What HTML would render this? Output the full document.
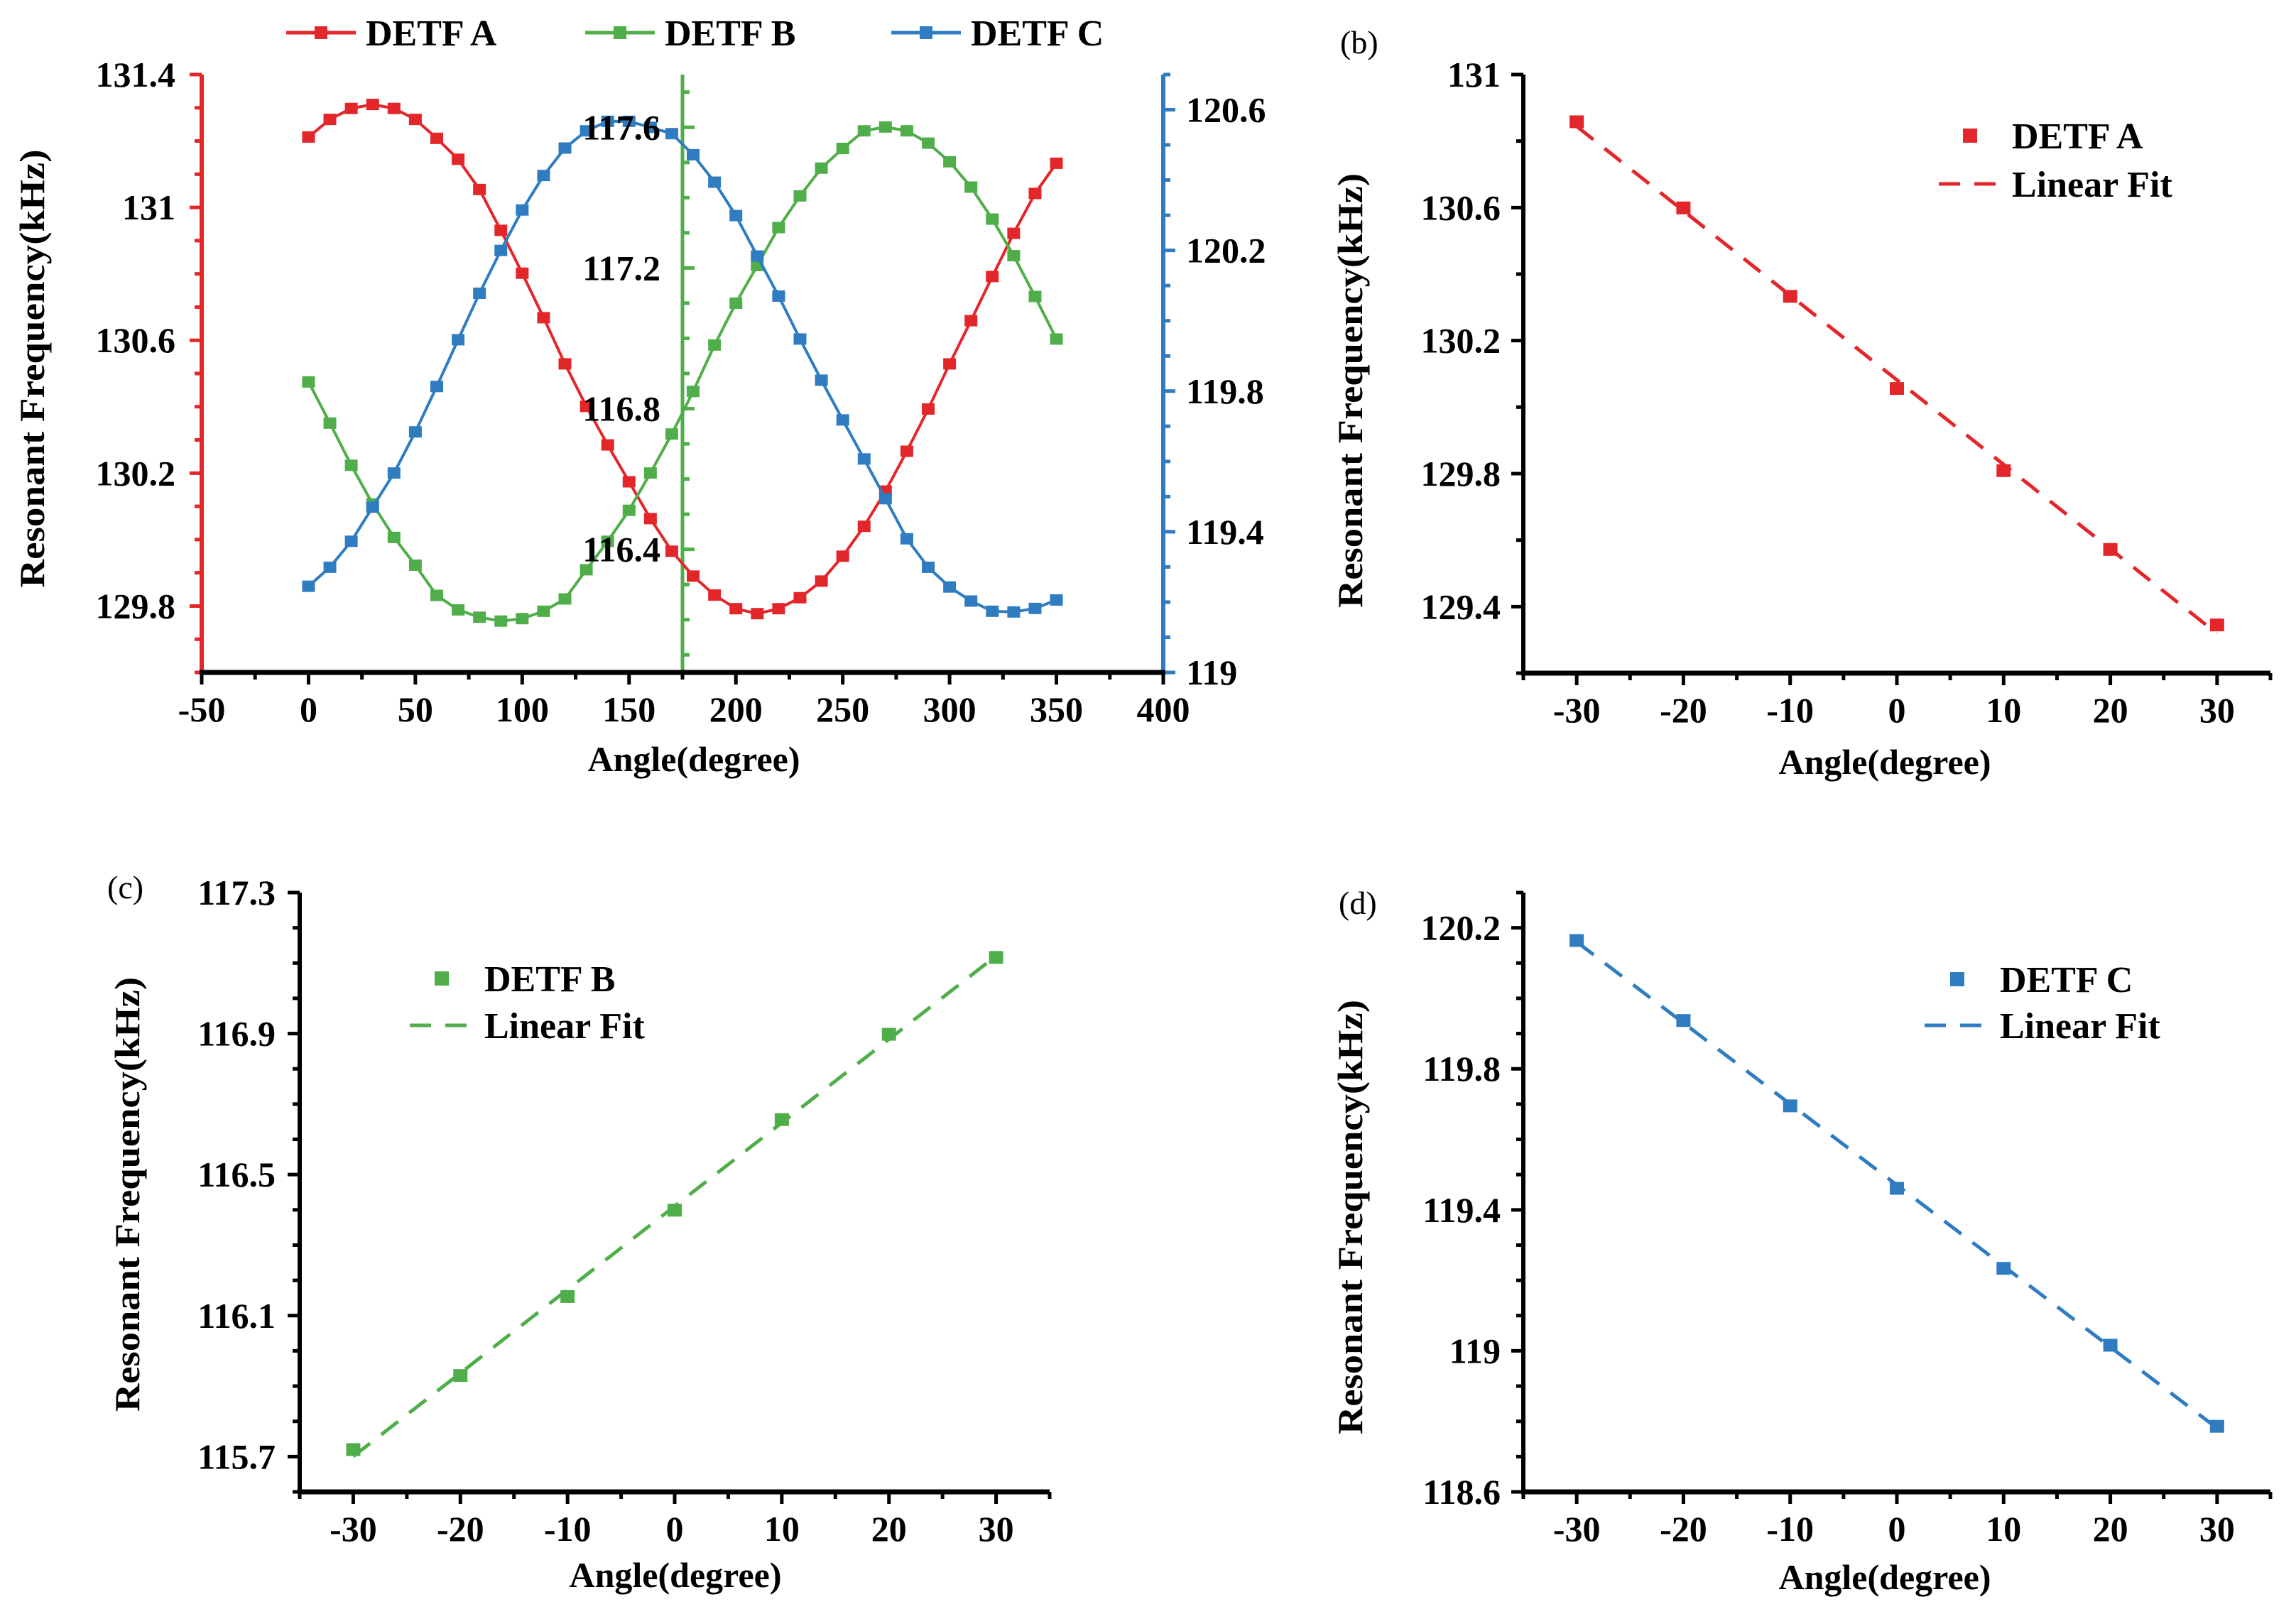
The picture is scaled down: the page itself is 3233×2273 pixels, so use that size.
<!DOCTYPE html>
<html><head><meta charset="utf-8">
<style>
html,body{margin:0;padding:0;background:#fff;}
svg{display:block;font-family:"Liberation Serif",serif;font-weight:bold;}
</style></head>
<body>
<svg id="fig" xmlns="http://www.w3.org/2000/svg" width="3233" height="2273" viewBox="0 0 3233 2273"></svg>
<script>
// ---------- Panel (a) data ----------
const anglesA = [0,10,20,30,40,50,60,70,80,90,100,110,120,130,140,150,160,170,180,190,200,210,220,230,240,250,260,270,280,290,300,310,320,330,340,350];
const detfA = [131.212,131.265,131.298,131.31,131.298,131.265,131.208,131.145,131.054,130.931,130.802,130.668,130.529,130.401,130.285,130.174,130.063,129.965,129.890,129.833,129.792,129.777,129.792,129.825,129.875,129.950,130.040,130.146,130.266,130.393,130.529,130.659,130.792,130.922,131.042,131.133];
const detfB = [116.876,116.759,116.639,116.529,116.434,116.355,116.269,116.228,116.207,116.196,116.203,116.224,116.259,116.342,116.423,116.511,116.617,116.728,116.849,116.981,117.100,117.207,117.315,117.405,117.484,117.540,117.590,117.601,117.590,117.555,117.502,117.430,117.339,117.235,117.119,116.998];
const detfC = [119.245,119.299,119.373,119.470,119.567,119.684,119.813,119.946,120.078,120.200,120.315,120.413,120.491,120.540,120.567,120.567,120.550,120.532,120.472,120.394,120.299,120.184,120.070,119.948,119.831,119.718,119.607,119.494,119.380,119.299,119.243,119.203,119.174,119.172,119.182,119.206];
const xTicksA = [-50,0,50,100,150,200,250,300,350,400];
const yTicksAL = [129.8,130.2,130.6,131,131.4];
const yTicksAG = [116.4,116.8,117.2,117.6];
const yTicksAR = [119,119.4,119.8,120.2,120.6];
// ---------- Panels (b)(c)(d) data ----------
const anglesFit = [-30,-20,-10,0,10,20,30];
const fitA = [130.858,130.599,130.333,130.056,129.809,129.572,129.345];
const fitB = [115.720,115.930,116.154,116.399,116.656,116.898,117.116];
const fitC = [120.164,119.937,119.695,119.461,119.234,119.016,118.786];
const xTicksFit = [-30,-20,-10,0,10,20,30];
const yTicksB = [129.4,129.8,130.2,130.6,131];
const yTicksC = [115.7,116.1,116.5,116.9,117.3];
const yTicksD = [118.6,119,119.4,119.8,120.2];

const RED='#e3262a', GREEN='#4fae4a', BLUE='#2f7cc0';
const NS='http://www.w3.org/2000/svg';
const svg=document.getElementById('fig');
function mk(tag, attrs, name, parent){
  const el=document.createElementNS(NS,tag);
  for(const k in attrs) el.setAttribute(k,attrs[k]);
  
  
  (parent||svg).appendChild(el);
  return el;
}
function txt(s,x,y,size,anchor,name,extra){
  const a=Object.assign({x:x,y:y,'font-size':size,'text-anchor':anchor||'middle',fill:'#000'},extra||{});
  const t=mk('text',a,name);
  t.textContent=s;
  return t;
}
function fmt(v){return String(+v.toFixed(1));}
function lin(d0,d1,p0,p1){return v=>p0+(v-d0)*(p1-p0)/(d1-d0);}
function ticksRange(a,b,step){const r=[];for(let v=a;v<=b+1e-9;v+=step)r.push(+v.toFixed(3));return r;}

// ================= Panel (a) =================
(function(){
  const X=lin(-50,400,284,1638);
  const YL=lin(129.6,131.4,947,105);
  const YG=lin(116.05,117.75,947,105);
  const YR=lin(119,120.7,947,105);
  const g=mk('g',{},'panel-a');
  // left axis
  mk('line',{x1:284,y1:105,x2:284,y2:950,stroke:RED,'stroke-width':6},'left-y-axis-a',g);
  ticksRange(129.6,131.4,0.1).forEach(v=>{
    const major=yTicksAL.some(t=>Math.abs(t-v)<1e-6);
    mk('line',{x1:284,y1:YL(v),x2:284-(major?17:10),y2:YL(v),stroke:RED,'stroke-width':5},'left-y-tick',g);
  });
  yTicksAL.forEach(v=>txt(fmt(v),247,YL(v)+17,50,'end','left-y-tick-label'));
  // green axis
  mk('line',{x1:961,y1:105,x2:961,y2:950,stroke:GREEN,'stroke-width':5},'middle-y-axis-a',g);
  ticksRange(116.1,117.7,0.1).forEach(v=>{
    const major=yTicksAG.some(t=>Math.abs(t-v)<1e-6);
    mk('line',{x1:961,y1:YG(v),x2:961+(major?17:10),y2:YG(v),stroke:GREEN,'stroke-width':5},'middle-y-tick',g);
  });
  yTicksAG.forEach(v=>txt(fmt(v),930,YG(v)+17,50,'end','middle-y-tick-label'));
  // blue axis
  mk('line',{x1:1638,y1:105,x2:1638,y2:950,stroke:BLUE,'stroke-width':6},'right-y-axis-a',g);
  ticksRange(119,120.7,0.1).forEach(v=>{
    const major=yTicksAR.some(t=>Math.abs(t-v)<1e-6);
    mk('line',{x1:1638,y1:YR(v),x2:1638+(major?17:10),y2:YR(v),stroke:BLUE,'stroke-width':5},'right-y-tick',g);
  });
  yTicksAR.forEach(v=>txt(fmt(v),1670,YR(v)+17,50,'start','right-y-tick-label'));
  // x axis
  mk('line',{x1:281,y1:947,x2:1641,y2:947,stroke:'#000','stroke-width':7},'x-axis-a',g);
  ticksRange(-50,400,25).forEach(v=>{
    const major=xTicksA.includes(v);
    mk('line',{x1:X(v),y1:947,x2:X(v),y2:947+(major?17:10),stroke:'#000','stroke-width':5},'x-tick',g);
  });
  xTicksA.forEach(v=>txt(String(v),X(v),1016,50,'middle','x-tick-label'));
  txt('Angle(degree)',977,1086,50,'middle','x-axis-title-a');
  txt('Resonant Frequency(kHz)',0,0,50,'middle','y-axis-title-a',{transform:'translate(62,519) rotate(-90)',textLength:617,lengthAdjust:'spacingAndGlyphs'});
  // series
  const series=[[detfA,YL,RED,'detf-a'],[detfB,YG,GREEN,'detf-b'],[detfC,YR,BLUE,'detf-c']];
  series.forEach(([vals,Y,col,nm])=>{
    const pts=anglesA.map((a,i)=>X(a)+','+Y(vals[i])).join(' ');
    mk('polyline',{points:pts,fill:'none',stroke:col,'stroke-width':4},'series-line-'+nm,g);
    anglesA.forEach((a,i)=>{
      mk('rect',{x:X(a)-9,y:Y(vals[i])-8,width:18,height:16,fill:col},'point-'+nm,g);
    });
  });
  // legend
  const leg=[[RED,'DETF A',403],[GREEN,'DETF B',824],[BLUE,'DETF C',1255]];
  leg.forEach(([col,label,x0])=>{
    mk('line',{x1:x0,y1:46,x2:x0+98,y2:46,stroke:col,'stroke-width':5},'legend-line',g);
    mk('rect',{x:x0+40,y:37,width:18,height:18,fill:col},'legend-marker',g);
    txt(label,x0+112,64,52,'start','legend-entry');
  });
})();

// ================= Fit panels =================
function fitPanel(o){
  const X=lin(-35,35,o.x0,o.x1);
  const Y=lin(o.ymin,o.ymax,o.yb,o.yt);
  const g=mk('g',{},o.name);
  mk('line',{x1:o.x0,y1:o.yt,x2:o.x0,y2:o.yb+3,stroke:'#000','stroke-width':6},'y-axis',g);
  ticksRange(o.tickStart,o.ymax,o.minor).forEach(v=>{
    const major=o.yTicks.some(t=>Math.abs(t-v)<1e-6);
    mk('line',{x1:o.x0,y1:Y(v),x2:o.x0-(major?17:10),y2:Y(v),stroke:'#000','stroke-width':5},'y-tick',g);
  });
  o.yTicks.forEach(v=>txt(fmt(v),o.labX,Y(v)+17,50,'end','y-tick-label'));
  mk('line',{x1:o.x0-3,y1:o.yb,x2:o.x1,y2:o.yb,stroke:'#000','stroke-width':7},'x-axis',g);
  ticksRange(-35,35,5).forEach(v=>{
    const major=xTicksFit.includes(v);
    mk('line',{x1:X(v),y1:o.yb,x2:X(v),y2:o.yb+(major?17:10),stroke:'#000','stroke-width':5},'x-tick',g);
  });
  xTicksFit.forEach(v=>txt(String(v),X(v),o.yb+69,50,'middle','x-tick-label'));
  txt('Angle(degree)',o.axc,o.axy,50,'middle','x-axis-title');
  txt('Resonant Frequency(kHz)',0,0,50,'middle','y-axis-title',{transform:'translate('+o.ylx+','+o.yly+') rotate(-90)',textLength:612,lengthAdjust:'spacingAndGlyphs'});
  txt(o.tag,o.tagx,o.tagy,46,'start','panel-label',{'font-weight':'normal'});
  // linear regression
  const n=anglesFit.length;
  const mx=anglesFit.reduce((s,v)=>s+v,0)/n, my=o.vals.reduce((s,v)=>s+v,0)/n;
  let sxy=0,sxx=0;anglesFit.forEach((a,i)=>{sxy+=(a-mx)*(o.vals[i]-my);sxx+=(a-mx)*(a-mx);});
  const k=sxy/sxx, b=my-k*mx;
  mk('line',{x1:X(-30),y1:Y(b+k*-30),x2:X(30),y2:Y(b+k*30),stroke:o.col,'stroke-width':5,'stroke-dasharray':'30,20'},'linear-fit-line',g);
  anglesFit.forEach((a,i)=>{
    mk('rect',{x:X(a)-10,y:Y(o.vals[i])-9,width:20,height:18,fill:o.col},'data-point',g);
  });
  // legend
  mk('rect',{x:o.lmx-10,y:o.lmy-10,width:20,height:20,fill:o.col},'legend-marker',g);
  txt(o.series,o.ltx,o.lmy+18,52,'start','legend-entry');
  mk('line',{x1:o.ldx0,y1:o.lfy,x2:o.ldx1,y2:o.lfy,stroke:o.col,'stroke-width':5,'stroke-dasharray':'30,20'},'legend-fit-line',g);
  txt('Linear Fit',o.ltx,o.lfy+18,52,'start','legend-entry');
}
fitPanel({name:'panel-b',x0:2145,x1:3197,yt:105,yb:948,ymin:129.2,ymax:131,tickStart:129.2,minor:0.2,yTicks:yTicksB,vals:fitA,col:RED,labX:2113,
  axc:2654,axy:1090,ylx:1918,yly:550,tag:'(b)',tagx:1887,tagy:75,series:'DETF A',lmx:2774,lmy:191,ltx:2833,lfy:259,ldx0:2730,ldx1:2816});
fitPanel({name:'panel-c',x0:422,x1:1478,yt:1257,yb:2101,ymin:115.6,ymax:117.3,tickStart:115.6,minor:0.1,yTicks:yTicksC,vals:fitB,col:GREEN,labX:388,
  axc:951,axy:2235,ylx:196,yly:1682,tag:'(c)',tagx:151,tagy:1265,series:'DETF B',lmx:622,lmy:1378,ltx:682,lfy:1444,ldx0:577,ldx1:668});
fitPanel({name:'panel-d',x0:2145,x1:3197,yt:1257,yb:2101,ymin:118.6,ymax:120.3,tickStart:118.6,minor:0.1,yTicks:yTicksD,vals:fitC,col:BLUE,labX:2113,
  axc:2654,axy:2238,ylx:1918,yly:1714,tag:'(d)',tagx:1885,tagy:1287,series:'DETF C',lmx:2756,lmy:1379,ltx:2816,lfy:1444,ldx0:2710,ldx1:2798});
</script>
</body></html>
